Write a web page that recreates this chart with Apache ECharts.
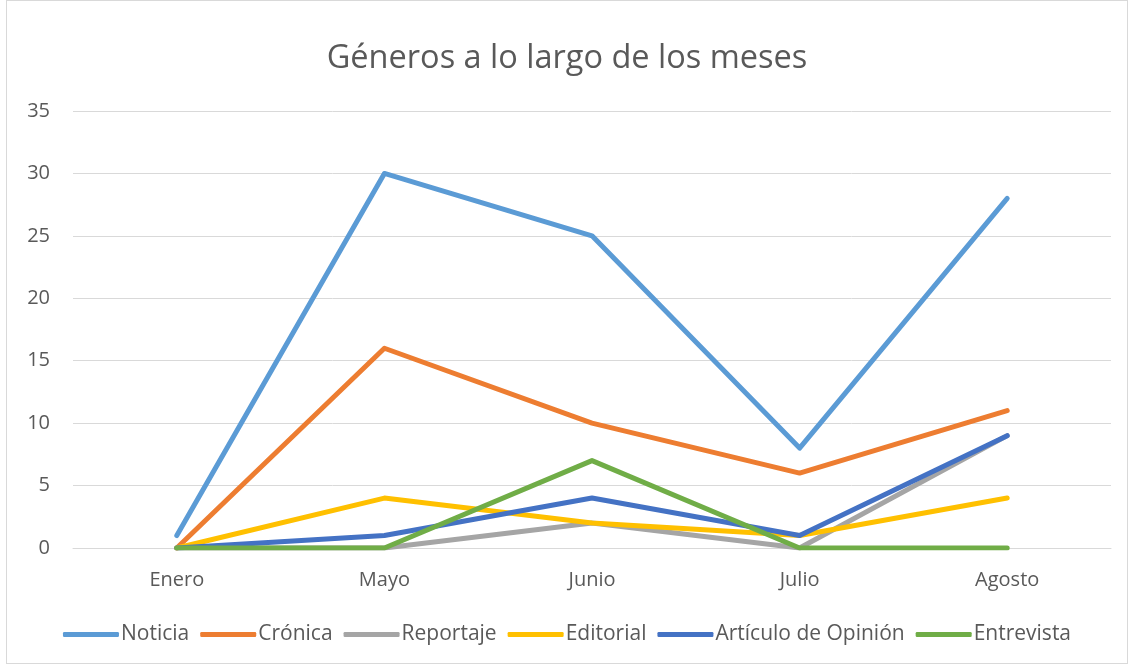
<!DOCTYPE html>
<html>
<head>
<meta charset="utf-8">
<script src="https://cdn.jsdelivr.net/npm/echarts@6/dist/echarts.min.js"></script>
<style>
  html, body { margin: 0; padding: 0; background: #fff; }
  #chart {
    position: absolute; left: 6px; top: 0; width: 1122px; height: 664px;
    border: 1px solid #d9d9d9; box-sizing: border-box;
  }
</style>
</head>
<body>
<div id="chart"></div>
<script>
const meses = ['Enero', 'Mayo', 'Junio', 'Julio', 'Agosto']
const noticia = [1, 30, 25, 8, 28]
const cronica = [0, 16, 10, 6, 11]
const reportaje = [0, 0, 2, 0, 9]
const editorial = [0, 4, 2, 1, 4]
const articuloOpinion = [0, 1, 4, 1, 9]
const entrevista = [0, 0, 7, 0, 0]

const font = 'Open Sans, sans-serif'
const textColor = '#595959'

const seriesDefs = [
  { name: 'Noticia', data: noticia, color: '#5B9BD5' },
  { name: 'Crónica', data: cronica, color: '#ED7D31' },
  { name: 'Reportaje', data: reportaje, color: '#A5A5A5' },
  { name: 'Editorial', data: editorial, color: '#FFC000' },
  { name: 'Artículo de Opinión', data: articuloOpinion, color: '#4472C4' },
  { name: 'Entrevista', data: entrevista, color: '#70AD47' }
]

const chart = echarts.init(document.getElementById('chart'))

chart.setOption({
  animation: false,
  title: {
    text: 'Géneros a lo largo de los meses',
    left: 'center',
    top: 36,
    textStyle: { fontFamily: font, fontSize: 32.5, fontWeight: 'normal', color: textColor }
  },
  grid: { left: 66, right: 16, top: 110, bottom: 115, containLabel: false },
  legend: {
    bottom: 13,
    left: 'center',
    itemWidth: 56,
    itemHeight: 5,
    itemGap: 11,
    icon: 'roundRect',
    textStyle: { fontFamily: font, fontSize: 21, color: textColor, padding: [0, 0, 0, -3] },
    data: seriesDefs.map(s => s.name)
  },
  xAxis: {
    type: 'category',
    data: meses,
    boundaryGap: true,
    axisLine: { lineStyle: { color: '#d9d9d9', width: 1 } },
    axisTick: { show: false },
    axisLabel: { fontFamily: font, fontSize: 20, color: textColor, margin: 22 }
  },
  yAxis: {
    type: 'value',
    min: 0,
    max: 35,
    interval: 5,
    axisLine: { show: false },
    axisTick: { show: false },
    axisLabel: { fontFamily: font, fontSize: 20, color: textColor, margin: 23 },
    splitLine: { lineStyle: { color: '#d9d9d9', width: 1 } }
  },
  series: seriesDefs.map(s => ({
    type: 'line',
    name: s.name,
    data: s.data,
    symbol: 'none',
    lineStyle: { color: s.color, width: 5, cap: 'round', join: 'round' },
    itemStyle: { color: s.color }
  }))
})
</script>
</body>
</html>
